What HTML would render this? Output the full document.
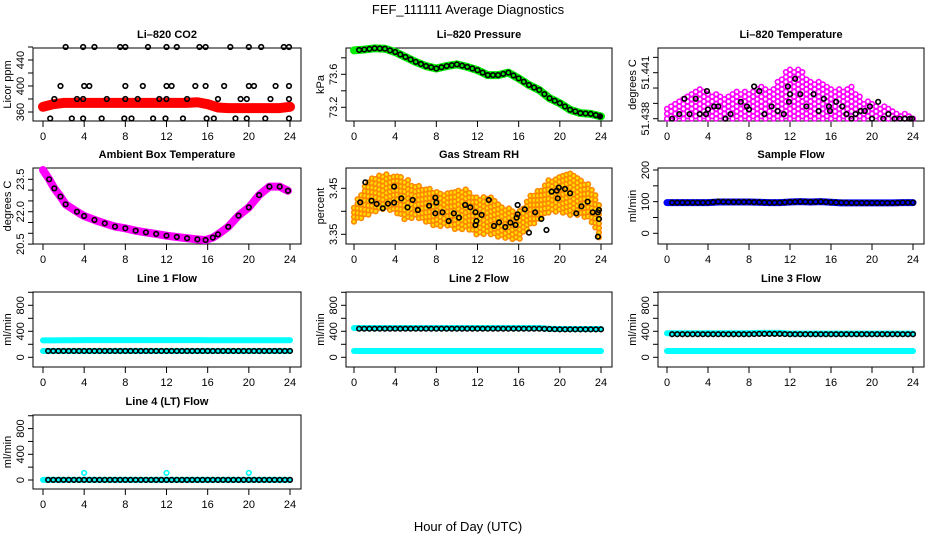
<!DOCTYPE html>
<html><head><meta charset="utf-8">
<style>
html,body{margin:0;padding:0;background:#fff;}
svg{display:block;font-family:"Liberation Sans",Arial,sans-serif;}
.t{font-size:11px;font-weight:bold;text-anchor:middle;}
.tk{font-size:11px;text-anchor:middle;}
</style></head>
<body>
<svg id="chart" width="936" height="540" viewBox="0 0 936 540" xmlns="http://www.w3.org/2000/svg">
<text x="468" y="14" style="font-size:13px;text-anchor:middle">FEF_111111  Average Diagnostics</text>
<text x="468" y="531" style="font-size:13px;text-anchor:middle">Hour of Day (UTC)</text>
</svg>
<script>
// ---- data ----
var xTicks = [0,4,8,12,16,20,24];
var hours = [0,1,2,3,4,5,6,7,8,9,10,11,12,13,14,15,16,17,18,19,20,21,22,23,24];
// CO2
var co2Red = [368,372,374,374,374,374,374,374,374,374,374,374,374,374,374,375,372,367,366,366,366,366,366,366,368];
var co2Hi = [2.2,3.9,5,7.5,8,10.2,12,13,15.2,15.8,18.2,20,21.2,23.4,23.9];
var co2Mid = [1.7,4,4.5,8,9.7,12,12.5,14.8,15.8,17.6,20,20.5,22.6,23.9];
var co2Low = [1.1,3.3,3.9,6.2,8,9.2,11.3,12,14,17,19.2,19.8,22.1,23.9];
var co2Min = [0.7,2.8,3.9,5.7,7.9,8.6,10.7,11.9,13.6,15.9,16.6,18.7,19.8,21.6,23.9];
var co2Levels = [460,400,380,350];
// Pressure
var pressVals = [73.89,73.90,73.915,73.91,73.87,73.81,73.75,73.70,73.67,73.70,73.72,73.69,73.65,73.59,73.59,73.62,73.55,73.47,73.41,73.31,73.25,73.17,73.13,73.12,73.09];
// Li-820 temperature
var tempHi = [51.4388,51.4391,51.4395,51.4401,51.4397,51.4396,51.4395,51.4399,51.4397,51.4403,51.4399,51.4407,51.4414,51.4412,51.4405,51.4405,51.4401,51.4399,51.4401,51.4393,51.4390,51.4389,51.4386,51.4384,51.4381];
var tempBlackH = [0.5,1.2,1.7,2.2,2.8,3.2,3.8,3.9,4,4.6,5,5.7,6.2,7.2,7.8,8,8.5,9,9.5,10.2,10.8,11.4,11.8,11.9,12,12.5,13,13.6,14.3,14.8,15.3,15.8,15.9,16.5,17.1,17.5,18,18.4,18.9,19.3,19.8,20,20.6,21.1,21.6,22.2,22.7,23.2,23.7,23.9];
var tempBlackV = [51.4380,51.4383,51.4393,51.4383,51.4393,51.4383,51.4383,51.4398,51.4386,51.4388,51.4388,51.4380,51.4383,51.4391,51.4388,51.4386,51.4401,51.4398,51.4383,51.4388,51.4385,51.4383,51.4401,51.4391,51.4396,51.4406,51.4396,51.4388,51.4396,51.4385,51.4393,51.4388,51.4385,51.4391,51.4388,51.4383,51.4380,51.4383,51.4385,51.4385,51.4388,51.4380,51.4391,51.4380,51.4383,51.4380,51.4380,51.4380,51.4380,51.4380];
// Ambient
var ambH = [0,0.6,1.1,1.7,2.2,3.3,4,5,6,7,8,9,10,11,12,13,14,15,15.8,16.5,17,18,19,20,21,22,23,23.8];
var ambV = [23.93,23.50,23.08,22.70,22.34,22.0,21.80,21.62,21.46,21.31,21.23,21.12,21.04,20.97,20.89,20.83,20.77,20.72,20.69,20.80,20.95,21.30,21.82,22.20,22.77,23.16,23.16,22.97];
// RH
var rhHi = [3.4137,3.4572,3.4789,3.4825,3.4789,3.4717,3.4608,3.4536,3.4463,3.4427,3.4500,3.4500,3.4282,3.4354,3.4209,3.4065,3.3992,3.4354,3.4500,3.4717,3.4789,3.4825,3.4680,3.4572,3.4137];
var rhLo = [3.3775,3.3883,3.3992,3.4065,3.3992,3.3811,3.3883,3.3775,3.3666,3.3702,3.3593,3.3630,3.3485,3.3521,3.3449,3.3412,3.3376,3.3666,3.3811,3.3992,3.3992,3.3920,3.3920,3.3811,3.3340];
var rhBlackH = [0.6,1.1,1.7,2.2,2.8,3.3,3.9,3.9,4.6,5.2,5.7,6.2,7.3,7.9,7.9,8,8.6,9.2,9.7,10.2,10.8,11.3,11.8,11.9,11.8,12.4,13.1,13.6,14.1,14.7,15.2,15.7,15.8,15.9,15.9,16.6,17,17.6,18.2,18.7,19.2,19.7,19.8,19.9,20.5,21,21.6,22.1,22.7,23.2,23.7,23.8,23.8,23.7];
var rhBlackV = [3.4195,3.4630,3.4231,3.4159,3.4065,3.4166,3.4188,3.4536,3.4282,3.4086,3.4246,3.4028,3.4122,3.4296,3.3956,3.4188,3.3978,3.3789,3.3956,3.3862,3.4137,3.4086,3.3978,3.3789,3.3702,3.3920,3.4246,3.3681,3.3760,3.3659,3.3753,3.3702,3.3862,3.3934,3.4137,3.4043,3.3536,3.3978,3.3833,3.3593,3.4427,3.4449,3.4282,3.4514,3.4485,3.4390,3.3956,3.4108,3.4209,3.3978,3.3978,3.4028,3.3833,3.3449];
// Flows (per hour)
var sampleBlue = [97,97,97,97,97,99,99,99,99,98,97,97,99,100,99,100,98,96,96,96,96,96,96,97,97];
var sampleBlack = [97,97,97,97,97,100,99,99,99,98,97,97,99,100,99,100,98,97,96,96,96,96,96,97,97];
var line1Cyan = [260,260,262,262,265,265,265,265,265,265,265,265,265,265,265,265,262,262,262,262,262,262,262,262,262];
var line1Black = [97,97,97,97,97,97,97,97,97,97,97,97,97,97,97,97,97,97,97,97,97,97,97,97,97];
var line2Cyan = [450,450,450,450,450,450,450,450,450,450,450,450,450,450,450,450,450,450,450,440,435,435,435,435,435];
var line2Black = [440,440,440,440,440,440,440,440,440,440,440,440,440,440,440,440,440,440,440,435,430,430,430,430,430];
var line2Low = [97,97,97,97,97,97,97,97,97,97,97,97,97,97,97,97,97,97,97,97,97,97,97,97,97];
var line3Cyan = [370,370,370,370,370,370,370,370,370,375,375,375,365,365,365,365,365,365,365,365,365,365,365,365,365];
var line3Black = [355,355,355,355,355,355,355,355,355,360,360,360,355,355,355,355,355,355,355,355,355,355,355,355,355];
var line3Low = [97,97,97,97,97,97,97,97,97,97,97,97,97,97,97,97,97,97,97,97,97,97,97,97,97];
var line4Black = [2,2,2,2,2,2,2,2,2,2,2,2,2,2,2,2,2,2,2,2,2,2,2,2,2];
var line4OutH = [4,12,20];
var line4OutV = [110,110,110];

// ---- layout ----
var NS = "http://www.w3.org/2000/svg";
var svg = document.getElementById("chart");
var colX = [[33,301],[346,612],[658,924]];
var colZero = [43,354,667], colFull = [290,601,913];
var rowY = [[48,121],[168,244],[292,367],[415,489]];

function mk(tag, attrs, parent){var e=document.createElementNS(NS,tag);for(var k in attrs)e.setAttribute(k,attrs[k]);(parent||svg).appendChild(e);return e;}
function interp(arr,h){var i=Math.floor(h);if(i>=arr.length-1)return arr[arr.length-1];var f=h-i;return arr[i]*(1-f)+arr[i+1]*f;}

function panel(name,title,col,row,ylab,a1,a2,ticks,labels){
  var g=mk("g",{});
  
  
  var x0=colX[col][0],x1=colX[col][1],y0=rowY[row][0],y1=rowY[row][1];
  var xs=function(h){return colZero[col]+(colFull[col]-colZero[col])*h/24;};
  var ys=function(v){return a1[1]+(v-a1[0])*(a2[1]-a1[1])/(a2[0]-a1[0]);};
  var tt=mk("text",{x:(x0+x1)/2,y:y0-10,"class":"t"},g);tt.textContent=title;
  
  
  var box=mk("rect",{x:x0,y:y0,width:x1-x0,height:y1-y0,fill:"none",stroke:"#000","stroke-width":1},g);
  
  
  var xa=mk("g",{},g);
  
  
  xTicks.forEach(function(t){
    mk("line",{x1:xs(t),x2:xs(t),y1:y1,y2:y1+6,stroke:"#000"},xa);
    var l=mk("text",{x:xs(t),y:y1+19,"class":"tk"},xa);l.textContent=t;
  });
  var ya=mk("g",{},g);
  
  
  ticks.forEach(function(t,i){
    var y=ys(t);
    mk("line",{x1:x0,x2:x0-5,y1:y,y2:y,stroke:"#000"},ya);
    if(labels[i]){var l=mk("text",{x:x0-9,y:y,"class":"tk",transform:"rotate(-90 "+(x0-9)+" "+y+")"},ya);l.textContent=labels[i];}
  });
  var yl=mk("text",{x:x0-22,y:(y0+y1)/2,"class":"tk",transform:"rotate(-90 "+(x0-22)+" "+((y0+y1)/2)+")"},g);yl.textContent=ylab;
  
  
  var plot=mk("g",{},g);
  
  
  return {g:plot,xs:xs,ys:ys};
}
function band(p,arr,color,w){
  var pts=hours.map(function(h,i){return p.xs(h)+","+p.ys(arr[i]);}).join(" ");
  var l=mk("polyline",{points:pts,fill:"none",stroke:color,"stroke-width":w,"stroke-linejoin":"round","stroke-linecap":"round"},p.g);
  
  
}
function pt(p,h,v,color,fill){
  var c=mk("circle",{cx:p.xs(h),cy:p.ys(v),r:2.3,fill:fill||"none",stroke:color,"stroke-width":1.6},p.g);
  
  
}
function hourlyPts(p,arr,color,start,end){
  for(var h=start;h<=end+1e-9;h+=0.5){pt(p,h,interp(arr,h),color);}
}

// CO2
var p=panel("co2","Li\u2013820 CO2",0,0,"Licor ppm",[360,112],[440,60],[360,380,400,420,440,460],["360","","400","","440",""]);
band(p,co2Red,"#f00",10);
[co2Hi,co2Mid,co2Low,co2Min].forEach(function(arr,k){arr.forEach(function(h){pt(p,h,co2Levels[k],"#000");});});

// Pressure
p=panel("pressure","Li\u2013820 Pressure",1,0,"kPa",[73.6,74.3],[73.2,107.3],[73.2,73.4,73.6,73.8],["73.2","","73.6",""]);
band(p,pressVals,"#0e0",8);
hourlyPts(p,pressVals,"#000",0.5,23.5);
pt(p,23.9,pressVals[24],"#000","#000");

// Li-820 temperature
p=panel("li820-temp","Li\u2013820 Temperature",2,0,"degrees C",[51.438,118.7],[51.441,72.7],[51.438,51.439,51.440,51.441,51.442],["51.438","","","51.441",""]);
(function(){var k=0;for(var h=0;h<=24;h+=0.4){var hi=interp(tempHi,h);var off=(k%2)?0.00016:0;for(var v=51.438+off;v<=hi+1e-7;v+=0.00032){pt(p,h,v,"#f0f");}k++;}})();
tempBlackH.forEach(function(h,i){pt(p,h,tempBlackV[i],"#000");});

// Ambient
p=panel("ambient-temp","Ambient Box Temperature",0,1,"degrees C",[22,211.7],[23.5,179.3],[20.5,21,21.5,22,22.5,23,23.5],["20.5","","","22.0","","","23.5"]);
(function(){var pts=ambH.map(function(h,i){return p.xs(h)+","+p.ys(ambV[i]);}).join(" ");
var l=mk("polyline",{points:pts,fill:"none",stroke:"#f0f","stroke-width":8,"stroke-linejoin":"round","stroke-linecap":"round"},p.g);

})();
ambH.forEach(function(h,i){if(i>0)pt(p,h,ambV[i],"#000");});

// RH
p=panel("gas-rh","Gas Stream RH",1,1,"percent",[3.35,234.3],[3.45,188.3],[3.35,3.40,3.45],["3.35","","3.45"]);
(function(){var k=0;for(var h2=0;h2<=24;h2+=0.35){var lo=interp(rhLo,h2),hi2=interp(rhHi,h2);var off=(k%2)?0.005:0;for(var v2=lo+off;v2<=hi2+1e-7;v2+=0.01){pt(p,h2,v2,"#f80","#fd0");}k++;}})();
rhBlackH.forEach(function(h,i){pt(p,h,rhBlackV[i],"#000");});

// Sample flow
p=panel("sample-flow","Sample Flow",2,1,"ml/min",[0,233.3],[200,170],[0,50,100,150,200],["0","","100","","200"]);
band(p,sampleBlue,"#00f",7);
hourlyPts(p,sampleBlack,"#000",0.5,24);

var flowTicks=[0,200,400,600,800,1000],flowLabels=["0","","400","","800",""];
// Line 1
p=panel("line1-flow","Line 1 Flow",0,2,"ml/min",[0,357.3],[400,331.3],flowTicks,flowLabels);
band(p,line1Cyan,"#0ff",6);band(p,line1Black,"#0ff",6);
hourlyPts(p,line1Black,"#000",0.5,24);
// Line 2
p=panel("line2-flow","Line 2 Flow",1,2,"ml/min",[0,357.3],[400,331.3],flowTicks,flowLabels);
band(p,line2Cyan,"#0ff",6);band(p,line2Low,"#0ff",6);
hourlyPts(p,line2Black,"#000",0.5,24);
// Line 3
p=panel("line3-flow","Line 3 Flow",2,2,"ml/min",[0,357.3],[400,331.3],flowTicks,flowLabels);
band(p,line3Cyan,"#0ff",6);band(p,line3Low,"#0ff",6);
hourlyPts(p,line3Black,"#000",0.5,24);
// Line 4
p=panel("line4-flow","Line 4 (LT) Flow",0,3,"ml/min",[0,480],[400,454.3],flowTicks,flowLabels);
band(p,line4Black,"#0ff",6);
hourlyPts(p,line4Black,"#000",0.5,24);
line4OutH.forEach(function(h,i){pt(p,h,line4OutV[i],"#0ff");});
</script>
</body></html>
